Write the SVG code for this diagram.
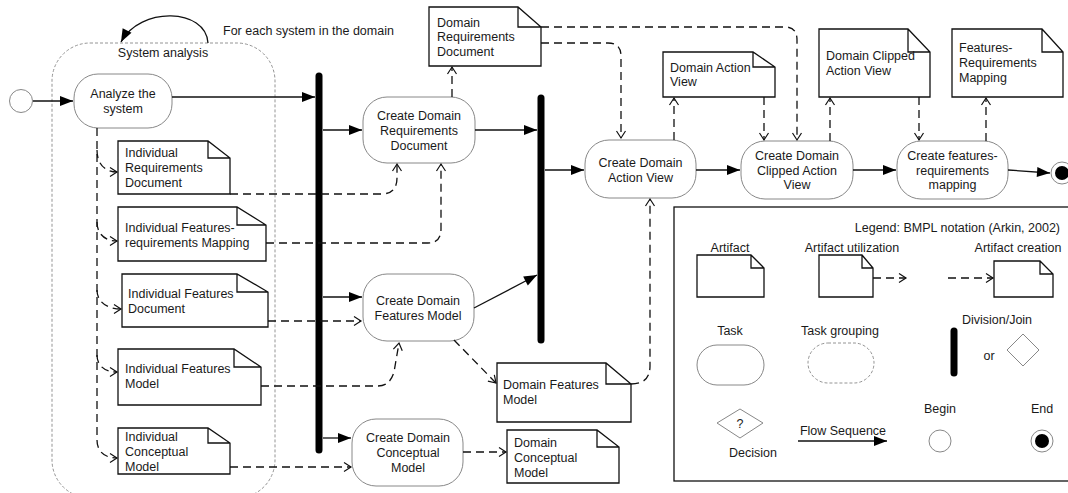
<svg xmlns="http://www.w3.org/2000/svg" width="1068" height="493" viewBox="0 0 1068 493">
<style>
text{font-family:"Liberation Sans",Arial,sans-serif;font-size:12.5px;fill:#1a1a1a}
.m{text-anchor:middle}
.task{fill:#fff;stroke:#888;stroke-width:1}
.doc{fill:#fff;stroke:#111;stroke-width:1.3}
.flow{fill:none;stroke:#111;stroke-width:1.3;marker-end:url(#fa)}
.dash{fill:none;stroke:#111;stroke-width:1.3;stroke-dasharray:8,5;marker-end:url(#oa)}
.bar{stroke:#000;stroke-width:7;stroke-linecap:round}
</style>
<defs>
<marker id="fa" markerUnits="userSpaceOnUse" markerWidth="16" markerHeight="12" viewBox="-14 -6 16 12" refX="0" refY="0" orient="auto"><path d="M-13,-5 L0,0 L-13,5 z" fill="#000"/></marker>
<marker id="oa" markerUnits="userSpaceOnUse" markerWidth="12" markerHeight="12" viewBox="-9 -6 12 12" refX="0" refY="0" orient="auto"><path d="M-7,-4.5 L0,0 L-7,4.5" fill="none" stroke="#111" stroke-width="1.2"/></marker>
</defs>

<g id="group-system-analysis">
<rect x="52" y="43" width="223" height="455" rx="38" fill="none" stroke="#888" stroke-width="0.9" stroke-dasharray="3,2"/>
<text class="m" x="163" y="56.5">System analysis</text>
</g>
<g id="loop-label">
<path d="M208,43 C206,8 140,6 121,42" fill="none" stroke="#111" stroke-width="1.3" marker-end="url(#fa)"/>
<text x="223" y="34.5">For each system in the domain</text>
</g>

<g id="begin"><circle cx="21" cy="101" r="11.5" fill="#fff" stroke="#888" stroke-width="1"/></g>
<g id="analyze"><rect class="task" x="74" y="74" width="98" height="54" rx="24"/><text class="m" x="123" y="97.5">Analyze the</text><text class="m" x="123" y="112.5">system</text></g>

<g id="ind-req-doc"><path class="doc" d="M118,141 H208 L230,158 V194 H118 Z M208,141 V158 H230"/><text x="125" y="156.5">Individual</text><text x="125" y="171.5">Requirements</text><text x="125" y="186.5">Document</text></g>
<g id="ind-fr-mapping"><path class="doc" d="M118,207 H237 L266,225 V261 H118 Z M237,207 V225 H266"/><text x="125" y="231.5">Individual Features-</text><text x="125" y="246.5">requirements Mapping</text></g>
<g id="ind-features-doc"><path class="doc" d="M122,274 H237 L268,292 V327 H122 Z M237,274 V292 H268"/><text x="128" y="297.5">Individual Features</text><text x="128" y="312.5">Document</text></g>
<g id="ind-features-model"><path class="doc" d="M118,349 H234 L261,367 V405 H118 Z M234,349 V367 H261"/><text x="125" y="372.5">Individual Features</text><text x="125" y="387.5">Model</text></g>
<g id="ind-conceptual-model"><path class="doc" d="M118,428 H208 L230,443 V474 H118 Z M208,428 V443 H230"/><text x="125" y="440.5">Individual</text><text x="125" y="455.5">Conceptual</text><text x="125" y="470.5">Model</text></g>

<g id="bar1"><line class="bar" x1="319" y1="76" x2="319" y2="450"/></g>
<g id="bar2"><line class="bar" x1="541" y1="98" x2="541" y2="340"/></g>

<g id="create-dom-req-doc"><rect class="task" x="363" y="97" width="112" height="66" rx="24"/><text class="m" x="419" y="119.5">Create Domain</text><text class="m" x="419" y="134.5">Requirements</text><text class="m" x="419" y="149.5">Document</text></g>
<g id="dom-req-doc"><path class="doc" d="M429,7 H518 L541,27 V66 H429 Z M518,7 V27 H541"/><text x="437" y="26.5">Domain</text><text x="437" y="41">Requirements</text><text x="437" y="55.5">Document</text></g>
<g id="create-dom-features-model"><rect class="task" x="363" y="274" width="111" height="67" rx="24"/><text class="m" x="418" y="304.5">Create Domain</text><text class="m" x="418" y="319.5">Features Model</text></g>
<g id="dom-features-model"><path class="doc" d="M497,363 H606 L631,384 V422 H497 Z M606,363 V384 H631"/><text x="503" y="388.5">Domain Features</text><text x="503" y="403.5">Model</text></g>
<g id="create-dom-conceptual-model"><rect class="task" x="352" y="419" width="111" height="67" rx="24"/><text class="m" x="408" y="441.5">Create Domain</text><text class="m" x="408" y="456.5">Conceptual</text><text class="m" x="408" y="471.5">Model</text></g>
<g id="dom-conceptual-model"><path class="doc" d="M507,430 H597 L619,447 V483 H507 Z M597,430 V447 H619"/><text x="514" y="446.5">Domain</text><text x="514" y="461.5">Conceptual</text><text x="514" y="476.5">Model</text></g>

<g id="create-dom-action-view"><rect class="task" x="585" y="140" width="111" height="58" rx="24"/><text class="m" x="640.5" y="166.5">Create Domain</text><text class="m" x="640.5" y="181.5">Action View</text></g>
<g id="dom-action-view"><path class="doc" d="M663,52 H753 L775,67 V97 H663 Z M753,52 V67 H775"/><text x="670" y="71.5">Domain Action</text><text x="670" y="85.5">View</text></g>
<g id="create-dom-clipped-action-view"><rect class="task" x="741" y="141" width="112" height="58" rx="24"/><text class="m" x="797" y="159.5">Create Domain</text><text class="m" x="797" y="174.5">Clipped Action</text><text class="m" x="797" y="189">View</text></g>
<g id="dom-clipped-action-view"><path class="doc" d="M819,29 H908 L930,52 V97 H819 Z M908,29 V52 H930"/><text x="826" y="59.5">Domain Clipped</text><text x="826" y="74.5">Action View</text></g>
<g id="create-features-req-mapping"><rect class="task" x="897" y="141" width="111" height="58" rx="24"/><text class="m" x="952.5" y="159.5">Create features-</text><text class="m" x="952.5" y="174.5">requirements</text><text class="m" x="952.5" y="189">mapping</text></g>
<g id="features-req-mapping"><path class="doc" d="M952,29 H1042 L1063,52 V97 H952 Z M1042,29 V52 H1063"/><text x="959" y="51.5">Features-</text><text x="959" y="66.5">Requirements</text><text x="959" y="81.5">Mapping</text></g>
<g id="end"><circle cx="1062" cy="173" r="11" fill="#fff" stroke="#888" stroke-width="1"/><circle cx="1062" cy="173" r="7" fill="#000"/></g>

<g id="connectors">
<path class="flow" d="M33,101 H73"/>
<path class="flow" d="M172,97 H315"/>
<path class="flow" d="M323,130 H362"/>
<path class="flow" d="M475,130 H537"/>
<path class="flow" d="M323,297 H362"/>
<path class="flow" d="M474,308 L537,275"/>
<path class="flow" d="M323,438 H351"/>
<path class="flow" d="M545,170 H584"/>
<path class="flow" d="M696,170 H740"/>
<path class="flow" d="M853,170 H896"/>
<path class="flow" d="M1008,170 L1050,173" stroke-width="0.9"/>

<path class="dash" d="M97,128 V440 C97,452 105,458 117,458"/>
<path class="dash" d="M97,150 C97,164 105,172 117,172"/>
<path class="dash" d="M97,222 C97,234 105,241 117,241"/>
<path class="dash" d="M97,290 C97,302 107,309 121,309"/>
<path class="dash" d="M97,355 C97,366 105,372 117,372"/>

<path class="dash" d="M230,194 H381 Q397,194 397,178 V164"/>
<path class="dash" d="M266,243 H428 Q441,243 441,229 V164"/>
<path class="dash" d="M268,321 H361"/>
<path class="dash" d="M261,386 H378 Q390,386 394,372 L399,343"/>
<path class="dash" d="M230,467 H351"/>
<path class="dash" d="M452,97 V67"/>
<path class="dash" d="M541,27 H785 Q797,27 797,40 V140"/>
<path class="dash" d="M541,43 H608 Q621,43 621,56 V138"/>
<path class="dash" d="M674,140 V98"/>
<path class="dash" d="M764,97 V140"/>
<path class="dash" d="M830,141 V98"/>
<path class="dash" d="M919,97 V140"/>
<path class="dash" d="M986,141 V98"/>
<path class="dash" d="M454,340 L496,383"/>
<path class="dash" d="M631,384 Q650,384 650,366 V199"/>
<path class="dash" d="M463,452 H506"/>
</g>

<g id="legend">
<rect x="674" y="207" width="400" height="274" fill="none" stroke="#111" stroke-width="1.3"/>
<text x="1060" y="231.5" text-anchor="end">Legend: BMPL notation (Arkin, 2002)</text>
<text class="m" x="730" y="251.5">Artifact</text>
<text class="m" x="852" y="251.5">Artifact utilization</text>
<text class="m" x="1018" y="251.5">Artifact creation</text>
<path class="doc" d="M697,255 H751 L764,268 V297 H697 Z M751,255 V268 H764"/>
<path class="doc" d="M819,255 H862 L873,268 V297 H819 Z M862,255 V268 H873"/>
<path class="dash" d="M873,278 H906"/>
<path class="dash" d="M948,278 H993"/>
<path class="doc" d="M994,261 H1040 L1053,274 V297 H994 Z M1040,261 V274 H1053"/>
<text class="m" x="730" y="334.5">Task</text>
<text class="m" x="840" y="334.5">Task grouping</text>
<text class="m" x="997" y="323.5">Division/Join</text>
<rect class="task" x="697" y="345" width="67" height="40" rx="20"/>
<rect x="808" y="343" width="66" height="40" rx="20" fill="none" stroke="#888" stroke-width="0.9" stroke-dasharray="3,2"/>
<line class="bar" x1="954" y1="331" x2="954" y2="373" stroke-width="6"/>
<text class="m" x="989" y="359.5">or</text>
<path d="M1023,334 L1039,350 L1023,366 L1007,350 Z" fill="#fff" stroke="#888" stroke-width="1"/>
<path d="M740,409 L763,423 L740,438 L717,423 Z" fill="#fff" stroke="#888" stroke-width="1"/>
<text class="m" x="740" y="427.5">?</text>
<text class="m" x="753" y="456.5">Decision</text>
<text class="m" x="843" y="434.5">Flow Sequence</text>
<path class="flow" d="M798,441 H887"/>
<text class="m" x="940" y="412.5">Begin</text>
<circle cx="940" cy="441" r="11" fill="#fff" stroke="#888" stroke-width="1"/>
<text class="m" x="1042" y="412.5">End</text>
<circle cx="1042" cy="441" r="11" fill="#fff" stroke="#888" stroke-width="1"/>
<circle cx="1042" cy="441" r="7" fill="#000"/>
</g>
</svg>
